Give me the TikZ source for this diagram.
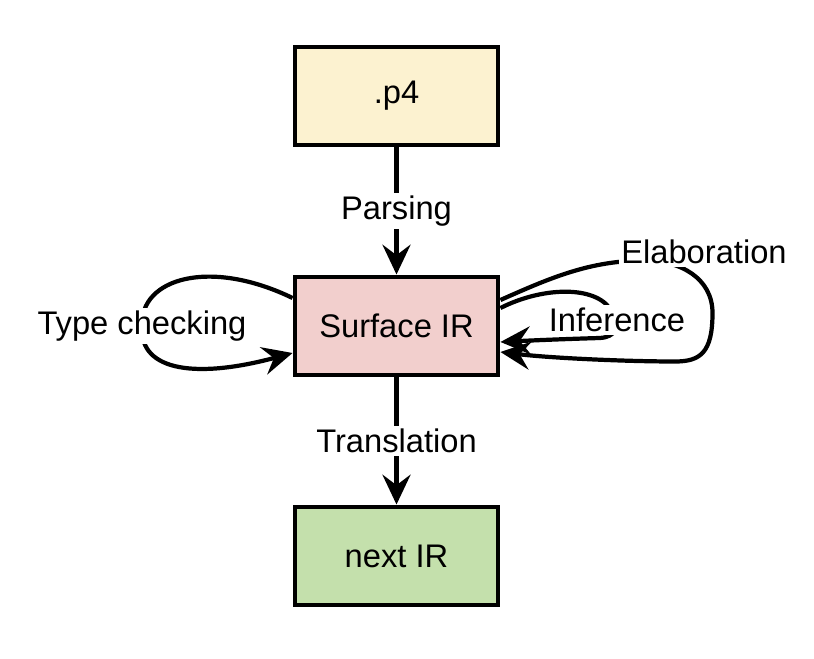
\documentclass[tikz,border=0pt]{standalone}
\usepackage{fontspec}
\setmainfont{Liberation Sans}
\usetikzlibrary{arrows.meta}
\definecolor{amarelo}{HTML}{FCF2D0}
\definecolor{rosa}{HTML}{F2CFCD}
\definecolor{verde}{HTML}{C4E0AC}
\begin{document}
\begin{tikzpicture}[
    box/.style={draw, line width=2.8pt, minimum width=4.06cm, minimum height=1.96cm, font=\fontsize{18.6}{22}\selectfont},
    lbl/.style={fill=white, inner sep=1.5pt, font=\fontsize{18.6}{22}\selectfont},
    flow/.style={line width=2.4pt, -{Stealth[length=17pt, width=16pt, inset=6pt]}}]
    \useasboundingbox (0,0) rectangle (16.28,13.16);

    % Representacoes
    \node[box, fill=amarelo] (p4) at (7.93,11.24) {.p4};
    \node[box, fill=rosa] (sir) at (7.93,6.64) {Surface IR};
    \node[box, fill=verde] (next) at (7.93,2.04) {next IR};

    % Passos entre representacoes
    \draw[flow] (p4) -- node[lbl]{Parsing} (sir);
    \draw[flow] (sir) -- node[lbl]{Translation} (next);

    % Passos sobre a Surface IR
    \draw[flow] ([yshift=0.56cm]sir.west) .. controls (4.2,8.0) and (2.8,7.6) .. (2.84,6.64) node[lbl] (tc) {Type checking} .. controls (2.78,5.7) and (4.0,5.6) .. ([yshift=-0.54cm]sir.west);
    \draw[flow] ([yshift=0.36cm]sir.east) .. controls (10.9,7.45) and (12.0,7.45) .. (12.25,6.9) .. controls (12.4,6.6) and (12.3,6.42) .. (12.0,6.40) .. controls (11.3,6.38) and (10.6,6.35) .. ([yshift=-0.32cm]sir.east);
    \node[lbl] (inf) at (12.34,6.76) {Inference};
    \draw[flow] ([yshift=0.52cm]sir.east) .. controls (11.0,7.6) and (11.8,7.95) .. (12.9,7.95) .. controls (13.6,7.95) and (14.25,7.6) .. (14.25,6.9) .. controls (14.25,6.1) and (14.0,5.93) .. (13.5,5.93) .. controls (12.5,5.93) and (11.0,6.0) .. ([yshift=-0.52cm]sir.east);
    \node[lbl] (elab) at (14.08,8.12) {Elaboration};
\end{tikzpicture}
\end{document}
